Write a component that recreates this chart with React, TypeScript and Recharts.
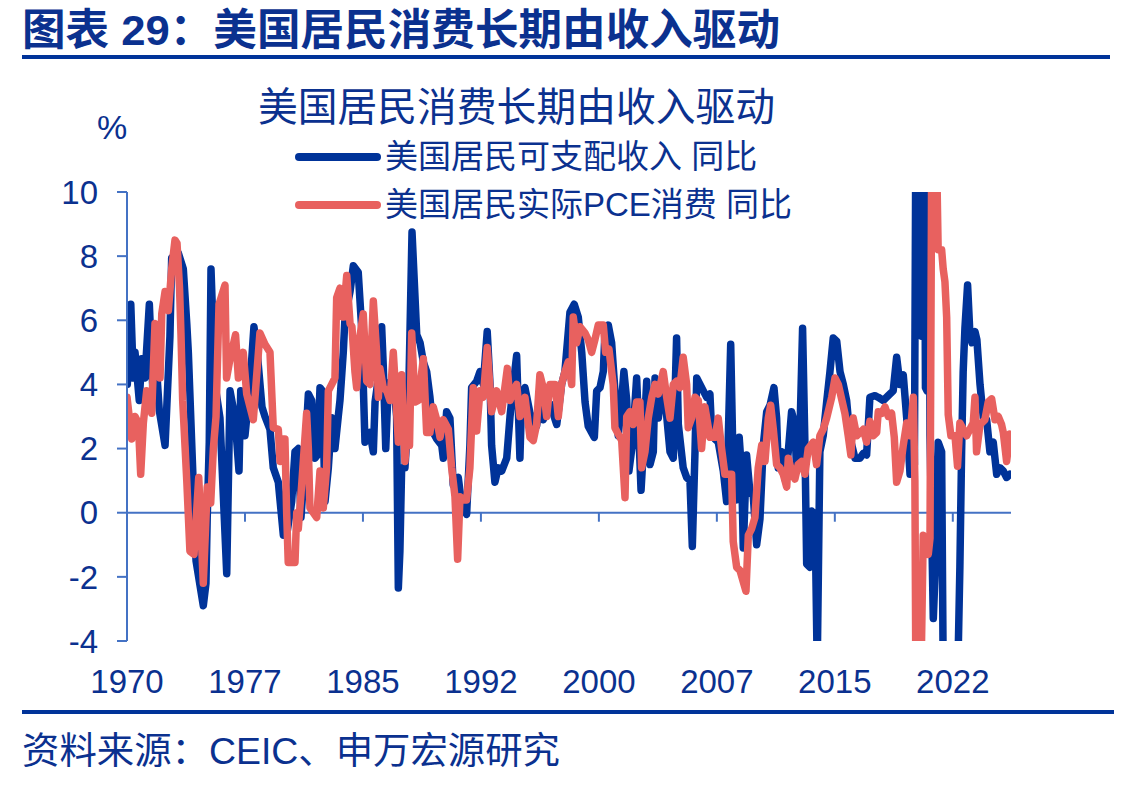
import React from 'react';
import { LineChart, Line, XAxis, YAxis, ReferenceLine, Legend } from 'recharts';

// 美国居民可支配收入 同比 (%)
const incomeDates = [
  1970.02, 1970.24, 1970.40, 1970.51, 1970.78, 1970.93, 1971.14, 1971.42, 1971.67, 1971.89,
  1972.05, 1972.42, 1972.73, 1972.84, 1973.26, 1973.58, 1973.80, 1973.90, 1974.21, 1974.39,
  1974.85, 1975.02, 1975.10, 1975.23, 1975.34, 1975.59, 1975.91, 1976.34, 1976.55, 1976.87,
  1977.12, 1977.23, 1977.50, 1977.82, 1978.07, 1978.26, 1978.58, 1978.77, 1979.09, 1979.30,
  1979.62, 1979.94, 1980.15, 1980.47, 1980.68, 1980.89, 1981.06, 1981.21, 1981.53, 1981.74,
  1981.95, 1982.11, 1982.27, 1982.42, 1982.59, 1982.80, 1983.01, 1983.22, 1983.43, 1983.54,
  1983.75, 1983.86, 1984.18, 1984.39, 1984.70, 1984.92, 1985.02, 1985.13, 1985.45, 1985.66,
  1985.77, 1985.98, 1986.19, 1986.29, 1986.45, 1986.61, 1986.93, 1987.14, 1987.25, 1987.35,
  1987.46, 1987.67, 1987.88, 1988.12, 1988.42, 1988.63, 1988.84, 1989.05, 1989.26, 1989.47,
  1989.69, 1990.01, 1990.11, 1990.32, 1990.53, 1990.74, 1991.06, 1991.28, 1991.59, 1991.80,
  1991.91, 1992.23, 1992.44, 1992.65, 1992.90, 1993.08, 1993.18, 1993.39, 1993.60, 1993.82,
  1994.14, 1994.35, 1994.56, 1994.77, 1994.98, 1995.09, 1995.30, 1995.62, 1996.04, 1996.25,
  1996.46, 1996.89, 1997.32, 1997.63, 1997.84, 1998.16, 1998.43, 1998.69, 1998.91, 1999.12,
  1999.32, 1999.71, 1999.86, 2000.07, 2000.28, 2000.39, 2000.60, 2000.81, 2001.02, 2001.13,
  2001.23, 2001.45, 2001.59, 2001.77, 2001.91, 2002.12, 2002.40, 2002.50, 2002.68, 2002.82,
  2003.04, 2003.25, 2003.46, 2003.57, 2003.78, 2003.99, 2004.20, 2004.52, 2004.73, 2004.94,
  2005.05, 2005.36, 2005.58, 2005.79, 2005.94, 2006.11, 2006.22, 2006.43, 2006.64, 2006.85,
  2007.06, 2007.17, 2007.38, 2007.59, 2007.91, 2008.12, 2008.38, 2008.54, 2008.76, 2008.92,
  2009.08, 2009.18, 2009.39, 2009.60, 2009.81, 2010.03, 2010.24, 2010.45, 2010.67, 2010.88,
  2011.13, 2011.30, 2011.40, 2011.62, 2011.83, 2012.04, 2012.25, 2012.46, 2012.57, 2012.74,
  2012.95, 2013.10, 2013.21, 2013.42, 2013.53, 2013.74, 2013.88, 2014.05, 2014.26, 2014.48,
  2014.69, 2014.90, 2015.12, 2015.33, 2015.54, 2015.75, 2015.96, 2016.28, 2016.60, 2016.81,
  2017.02, 2017.23, 2017.55, 2017.76, 2018.08, 2018.29, 2018.50, 2018.71, 2018.93, 2019.14,
  2019.35, 2019.57, 2019.78, 2019.97, 2020.06, 2020.16, 2020.28, 2020.41, 2020.52, 2020.60,
  2020.70, 2020.76, 2020.86, 2020.94, 2021.05, 2021.26, 2021.43, 2021.57, 2021.79, 2021.89,
  2022.06, 2022.32, 2022.64, 2022.85, 2022.95, 2023.06, 2023.16, 2023.27, 2023.44, 2023.59,
  2023.72, 2023.91, 2024.03, 2024.23, 2024.44, 2024.65, 2024.86, 2025.07, 2025.29, 2025.50,
  2025.71, 2025.92, 2026.13,
];
const incomeYoY = [
  4.0, 6.5, 4.2, 5.0, 3.5, 4.8, 4.2, 6.5, 3.5, 4.4,
  3.2, 2.1, 5.5, 7.95, 8.1, 7.6, 5.9, 5.0, 0.9, -1.5,
  -2.9, -2.2, -0.15, 2.2, 7.6, 4.0, 2.95, -1.9, 3.8, 2.95,
  1.3, 3.8, 2.4, 4.0, 5.8, 5.1, 3.3, 3.0, 2.6, 1.4,
  0.95, -0.7, -0.7, 0.35, 1.9, 2.0, -0.15, 0.9, 3.7, 3.5,
  1.7, 1.8, 3.9, 3.8, 0.35, 1.4, 2.96, 2.0, 3.0, 3.5,
  5.0, 6.1, 6.9, 7.7, 7.5, 5.75, 4.0, 2.2, 2.5, 1.9,
  3.45, 4.2, 5.8, 4.6, 2.0, 4.0, 4.2, 3.0, -2.35, -1.2,
  1.4, 1.4, 3.0, 8.75, 5.55, 5.3, 4.7, 4.4, 3.6, 2.5,
  2.3, 2.1, 1.7, 3.15, 2.95, 0.87, 1.1, 0.25, -0.05, 2.1,
  3.9, 4.1, 4.4, 4.0, 5.65, 4.0, 2.1, 0.95, 1.4, 1.3,
  1.7, 3.0, 4.0, 4.9, 1.7, 3.6, 3.9, 3.1, 2.7, 3.5,
  2.9, 3.4, 2.75, 4.0, 4.4, 6.25, 6.5, 6.1, 5.0, 3.45,
  2.7, 2.35, 3.8, 3.9, 4.4, 5.65, 5.85, 5.3, 3.8, 3.0,
  2.4, 3.5, 4.4, 3.5, 1.3, 2.1, 4.2, 3.0, 0.7, 1.9,
  4.1, 1.5, 1.9, 4.2, 2.95, 3.8, 3.6, 1.9, 1.7, 5.45,
  2.75, 1.4, 1.1, 1.0, -1.05, 1.9, 4.2, 4.0, 3.8, 3.6,
  3.7, 2.5, 2.3, 2.2, 1.3, 0.35, 5.25, 1.3, 0.4, 2.35,
  1.2, -1.1, 1.8, 0.65, 0.55, -1.0, -0.2, 2.1, 3.15, 3.35,
  3.9, 2.95, 1.4, 1.9, 1.05, 1.9, 3.15, 2.75, 1.3, 1.7,
  5.75, 2.1, -1.6, -1.7, 0.05, -0.05, -4.8, 1.9, 2.4, 3.45,
  4.4, 5.45, 5.35, 4.4, 4.0, 3.5, 2.35, 1.7, 1.7, 1.85,
  1.8, 3.6, 3.65, 3.6, 3.5, 3.6, 3.7, 3.8, 4.85, 4.0,
  4.3, 2.95, 1.2, 2.75, 1.5, 13, 11, 10.5, 5.5, 6,
  12, 3.9, 3.8, 20, 2.4, -3.3, -1.2, 2.2, 1.9, -5,
  -6.5, -6, -4.8, -4.2, -1.7, 1.9, 4.4, 5.75, 7.1, 5.55,
  5.3, 5.65, 5.4, 4.0, 2.95, 2.9, 1.9, 2.2, 1.2, 1.4,
  1.3, 1.1, 1.2,
];

// 美国居民实际PCE消费 同比 (%)
const pceDates = [
  1970.00, 1970.30, 1970.51, 1970.72, 1970.87, 1971.04, 1971.25, 1971.57, 1971.78, 1971.97,
  1972.10, 1972.21, 1972.42, 1972.63, 1972.84, 1973.05, 1973.18, 1973.34, 1973.43, 1973.54,
  1973.80, 1974.00, 1974.26, 1974.56, 1974.85, 1975.10, 1975.32, 1975.49, 1975.66, 1975.85,
  1976.23, 1976.33, 1976.55, 1976.90, 1977.08, 1977.39, 1977.61, 1978.03, 1978.20, 1978.45,
  1978.77, 1979.09, 1979.30, 1979.62, 1979.73, 1979.83, 1980.04, 1980.15, 1980.25, 1980.68,
  1980.79, 1980.89, 1981.11, 1981.42, 1981.53, 1981.63, 1981.84, 1982.06, 1982.27, 1982.48,
  1982.69, 1982.80, 1983.01, 1983.22, 1983.33, 1983.54, 1983.75, 1983.97, 1984.18, 1984.30,
  1984.49, 1984.60, 1984.81, 1985.02, 1985.24, 1985.45, 1985.66, 1985.87, 1985.98, 1986.08,
  1986.29, 1986.51, 1986.72, 1986.93, 1987.04, 1987.25, 1987.46, 1987.67, 1987.88, 1987.96,
  1988.10, 1988.31, 1988.52, 1988.84, 1989.05, 1989.26, 1989.47, 1989.69, 1989.90, 1990.11,
  1990.43, 1990.64, 1990.85, 1991.02, 1991.17, 1991.38, 1991.59, 1991.80, 1992.01, 1992.23,
  1992.44, 1992.65, 1992.90, 1993.18, 1993.50, 1993.82, 1994.18, 1994.35, 1994.56, 1994.77,
  1994.98, 1995.30, 1995.62, 1995.83, 1996.04, 1996.25, 1996.46, 1996.68, 1996.89, 1997.21,
  1997.42, 1997.63, 1997.84, 1998.05, 1998.27, 1998.37, 1998.59, 1998.80, 1999.12, 1999.32,
  1999.54, 1999.75, 1999.96, 2000.28, 2000.43, 2000.64, 2000.91, 2001.02, 2001.23, 2001.45,
  2001.66, 2001.77, 2001.98, 2002.19, 2002.40, 2002.61, 2002.72, 2002.93, 2003.14, 2003.36,
  2003.57, 2003.78, 2004.09, 2004.31, 2004.52, 2004.73, 2004.94, 2005.15, 2005.36, 2005.58,
  2005.68, 2005.90, 2006.11, 2006.32, 2006.53, 2006.74, 2007.06, 2007.38, 2007.59, 2007.80,
  2008.01, 2008.44, 2008.54, 2008.76, 2008.97, 2009.35, 2009.50, 2009.71, 2009.92, 2010.13,
  2010.35, 2010.56, 2010.77, 2010.92, 2011.09, 2011.30, 2011.51, 2011.72, 2011.94, 2012.04,
  2012.25, 2012.46, 2012.67, 2012.89, 2013.10, 2013.31, 2013.63, 2013.84, 2014.05, 2014.26,
  2014.48, 2014.80, 2015.01, 2015.22, 2015.43, 2015.64, 2015.85, 2016.02, 2016.17, 2016.39,
  2016.60, 2016.81, 2017.02, 2017.23, 2017.44, 2017.66, 2017.76, 2017.98, 2018.19, 2018.40,
  2018.61, 2018.78, 2018.93, 2019.14, 2019.35, 2019.57, 2019.78, 2019.99, 2020.09, 2020.20,
  2020.35, 2020.48, 2020.62, 2020.79, 2020.94, 2021.05, 2021.14, 2021.26, 2021.37, 2021.49,
  2021.57, 2021.79, 2021.89, 2022.00, 2022.11, 2022.21, 2022.38, 2022.64, 2022.80, 2022.95,
  2023.16, 2023.38, 2023.59, 2023.80, 2023.91, 2024.01, 2024.23, 2024.54, 2024.75, 2024.97,
  2025.18, 2025.39, 2025.60, 2025.71, 2025.92, 2026.13,
];
const pceYoY = [
  3.6, 2.3, 3.0, 2.8, 1.2, 2.8, 3.8, 3.1, 5.9, 5.6,
  4.2, 6.2, 6.9, 6.3, 7.6, 8.5, 8.4, 7.0, 5.6, 3.5,
  1.0, -1.2, -1.3, 1.1, -2.2, 0.8, 0.3, 2.0, 3.0, 6.5,
  7.1, 4.2, 4.8, 5.55, 4.2, 5.0, 3.7, 2.9, 4.0, 5.6,
  5.25, 5.0, 2.65, 2.6, 1.6, 2.3, 2.3, 0.0, -1.55, -1.55,
  0.0, -0.5, 0.9, 3.1, 2.0, 0.15, 0.0, -0.15, 1.3, 0.15,
  1.4, 3.8, 4.0, 4.2, 6.7, 7.0, 6.1, 7.4, 5.9, 5.8,
  4.4, 3.9, 5.5, 6.2, 4.1, 4.0, 6.6, 5.0, 3.6, 4.5,
  3.9, 3.8, 3.5, 5.0, 4.1, 2.2, 4.3, 1.6, 3.0, 2.1,
  5.6, 3.45, 3.5, 4.8, 2.5, 2.5, 3.3, 2.9, 2.35, 2.9,
  2.6, 1.4, 0.5, -1.45, 0.5, 0.4, 0.4, 1.4, 3.9, 2.55,
  3.8, 3.6, 5.15, 3.15, 3.8, 3.15, 4.5, 3.5, 3.8, 4.0,
  3.0, 3.6, 2.35, 2.25, 2.75, 4.3, 3.9, 3.0, 4.0, 4.0,
  3.0, 4.0, 4.4, 4.7, 4.0, 6.1, 5.3, 5.8, 5.6, 5.4,
  5.0, 5.4, 5.85, 5.85, 5.0, 5.1, 4.0, 2.65, 2.45, 2.25,
  0.47, 3.0, 3.15, 2.75, 3.45, 3.45, 1.4, 1.9, 2.95, 3.6,
  4.0, 3.7, 4.4, 3.6, 2.95, 4.0, 4.1, 3.9, 4.85, 4.0,
  2.65, 2.95, 3.6, 3.5, 2.0, 3.3, 2.35, 2.35, 2.95, 2.0,
  1.2, 1.2, -0.9, -1.7, -1.8, -2.45, -0.7, -0.5, -0.15, 1.4,
  2.1, 1.6, 2.95, 3.35, 2.6, 1.5, 1.4, 1.2, 0.8, 1.7,
  1.3, 1.05, 1.5, 1.6, 1.2, 2.0, 2.2, 1.5, 2.4, 2.6,
  2.95, 3.6, 4.2, 4.0, 3.55, 3.1, 2.4, 1.8, 2.95, 2.4,
  2.5, 2.6, 2.2, 2.85, 2.4, 2.5, 3.15, 3.1, 3.3, 3.0,
  3.1, 2.35, 0.95, 1.3, 2.1, 2.8, 2.4, 3.6, 1.0, -10,
  -8, -5, -0.7, -1.0, -1.3, -0.8, 9, 25, 14, 10.5,
  8.2, 8.2, 7.6, 7.2, 6.1, 3.05, 2.4, 2.4, 1.45, 2.8,
  2.6, 2.4, 2.6, 2.8, 3.6, 1.9, 2.75, 2.9, 3.45, 3.55,
  2.9, 3.0, 2.75, 2.5, 1.6, 2.45,
];

const yTicks = [-4, -2, 0, 2, 4, 6, 8, 10];
const xTicks = [1970, 1977.5, 1985, 1992.5, 2000, 2007.5, 2015, 2022.5];
const xTickLabels = ['1970', '1977', '1985', '1992', '2000', '2007', '2015', '2022'];

const zip = (dates: number[], vals: number[]) =>
  dates.slice(0, Math.min(dates.length, vals.length)).map((t, i) => ({ t, v: vals[i] }));
const incomeRows = zip(incomeDates, incomeYoY);
const pceRows = zip(pceDates, pceYoY);

const W = 1129;
const H = 787;
const PLOT_LEFT = 127;
const PLOT_RIGHT = 1011;
const PLOT_TOP = 192;
const PLOT_BOTTOM = 641;
const Y_AXIS_W = 60;
const X_AXIS_H = 60;
const Y_MIN = -4;
const Y_MAX = 10;

const TEXT = '#0B318F';
const NAVY = '#003399';
const RED = '#E8615F';
const AXIS = '#4472C4';
const FONT = "'Liberation Sans', 'Noto Sans CJK SC', sans-serif";
const CJK = "'Noto Sans CJK SC', 'Liberation Sans', sans-serif";
const LINE_W = 7.5;

const zeroY = PLOT_TOP + ((Y_MAX - 0) / (Y_MAX - Y_MIN)) * (PLOT_BOTTOM - PLOT_TOP);

const XTick = (props: any) => {
  const { x, payload } = props;
  const idx = xTicks.indexOf(payload.value);
  return (
    <g>
      {idx > 0 && <line x1={x} x2={x} y1={zeroY} y2={zeroY + 9} stroke={AXIS} strokeWidth={2} />}
      <text x={x} y={PLOT_BOTTOM + 52} textAnchor="middle" fill={TEXT} fontSize={33} fontFamily={FONT}>
        {xTickLabels[idx]}
      </text>
    </g>
  );
};

const LegendBox = (props: any) => {
  const items = props.payload || [];
  return (
    <div>
      {items.map((p: any) => (
        <div key={p.value} style={{ display: 'flex', alignItems: 'center', height: 48 }}>
          <span style={{ display: 'inline-block', width: 86, height: 8, borderRadius: 4, background: p.color, marginRight: 4 }} />
          <span style={{ fontSize: 33, color: TEXT, fontFamily: FONT, lineHeight: '48px', whiteSpace: 'nowrap' }}>{p.value}</span>
        </div>
      ))}
    </div>
  );
};

export default function App() {
  return (
    <div style={{ position: 'relative', width: W, height: H, background: '#fff' }}>
      <style>{'body{margin:0}'}</style>
      <svg width={W} height={H} style={{ position: 'absolute', left: 0, top: 0 }}>
        <text x={22} y={45} fill={TEXT} fontSize={43} fontWeight={700} fontFamily={FONT} textLength={758} lengthAdjust="spacingAndGlyphs">
          图表 29：美国居民消费长期由收入驱动
        </text>
        <rect x={22} y={55} width={1088} height={4} fill={NAVY} />
        <text x={258} y={121} fill={TEXT} fontSize={40} fontFamily={CJK} textLength={517} lengthAdjust="spacingAndGlyphs">
          美国居民消费长期由收入驱动
        </text>
        <text x={97} y={139} fill={TEXT} fontSize={34} fontFamily={FONT}>%</text>
        <rect x={22} y={710} width={1092} height={4} fill={NAVY} />
        <text x={22} y={764} fill={TEXT} fontSize={37} fontFamily={FONT} textLength={538} lengthAdjust="spacingAndGlyphs">
          资料来源：CEIC、申万宏源研究
        </text>
      </svg>
      <div style={{ position: 'absolute', left: 0, top: 0 }}>
        <LineChart
          width={W}
          height={H}
          margin={{ top: PLOT_TOP, right: W - PLOT_RIGHT, bottom: H - PLOT_BOTTOM - X_AXIS_H, left: PLOT_LEFT - Y_AXIS_W }}
        >
          <XAxis
            type="number"
            dataKey="t"
            domain={[1970, 2026.2]}
            ticks={xTicks}
            allowDataOverflow
            axisLine={false}
            tickLine={false}
            height={X_AXIS_H}
            tick={<XTick />}
            interval={0}
          />
          <YAxis
            type="number"
            domain={[Y_MIN, Y_MAX]}
            ticks={yTicks}
            allowDataOverflow
            width={Y_AXIS_W}
            axisLine={{ stroke: AXIS, strokeWidth: 2 }}
            tickLine={{ stroke: AXIS, strokeWidth: 2 }}
            tickSize={10}
            tickMargin={19}
            tick={{ fill: TEXT, fontSize: 33, fontFamily: FONT }}
            interval={0}
          />
          <ReferenceLine y={0} stroke={AXIS} strokeWidth={2} />
          <Legend
            layout="vertical"
            align="center"
            verticalAlign="middle"
            wrapperStyle={{ left: 295, top: 133, width: 560 }}
            content={<LegendBox />}
          />
          <Line
            data={incomeRows}
            dataKey="v"
            name="美国居民可支配收入 同比"
            type="linear"
            stroke={NAVY}
            strokeWidth={LINE_W}
            strokeLinejoin="round"
            strokeLinecap="round"
            dot={false}
            isAnimationActive={false}
          />
          <Line
            data={pceRows}
            dataKey="v"
            name="美国居民实际PCE消费 同比"
            type="linear"
            stroke={RED}
            strokeWidth={LINE_W}
            strokeLinejoin="round"
            strokeLinecap="round"
            dot={false}
            isAnimationActive={false}
          />
        </LineChart>
      </div>
    </div>
  );
}
